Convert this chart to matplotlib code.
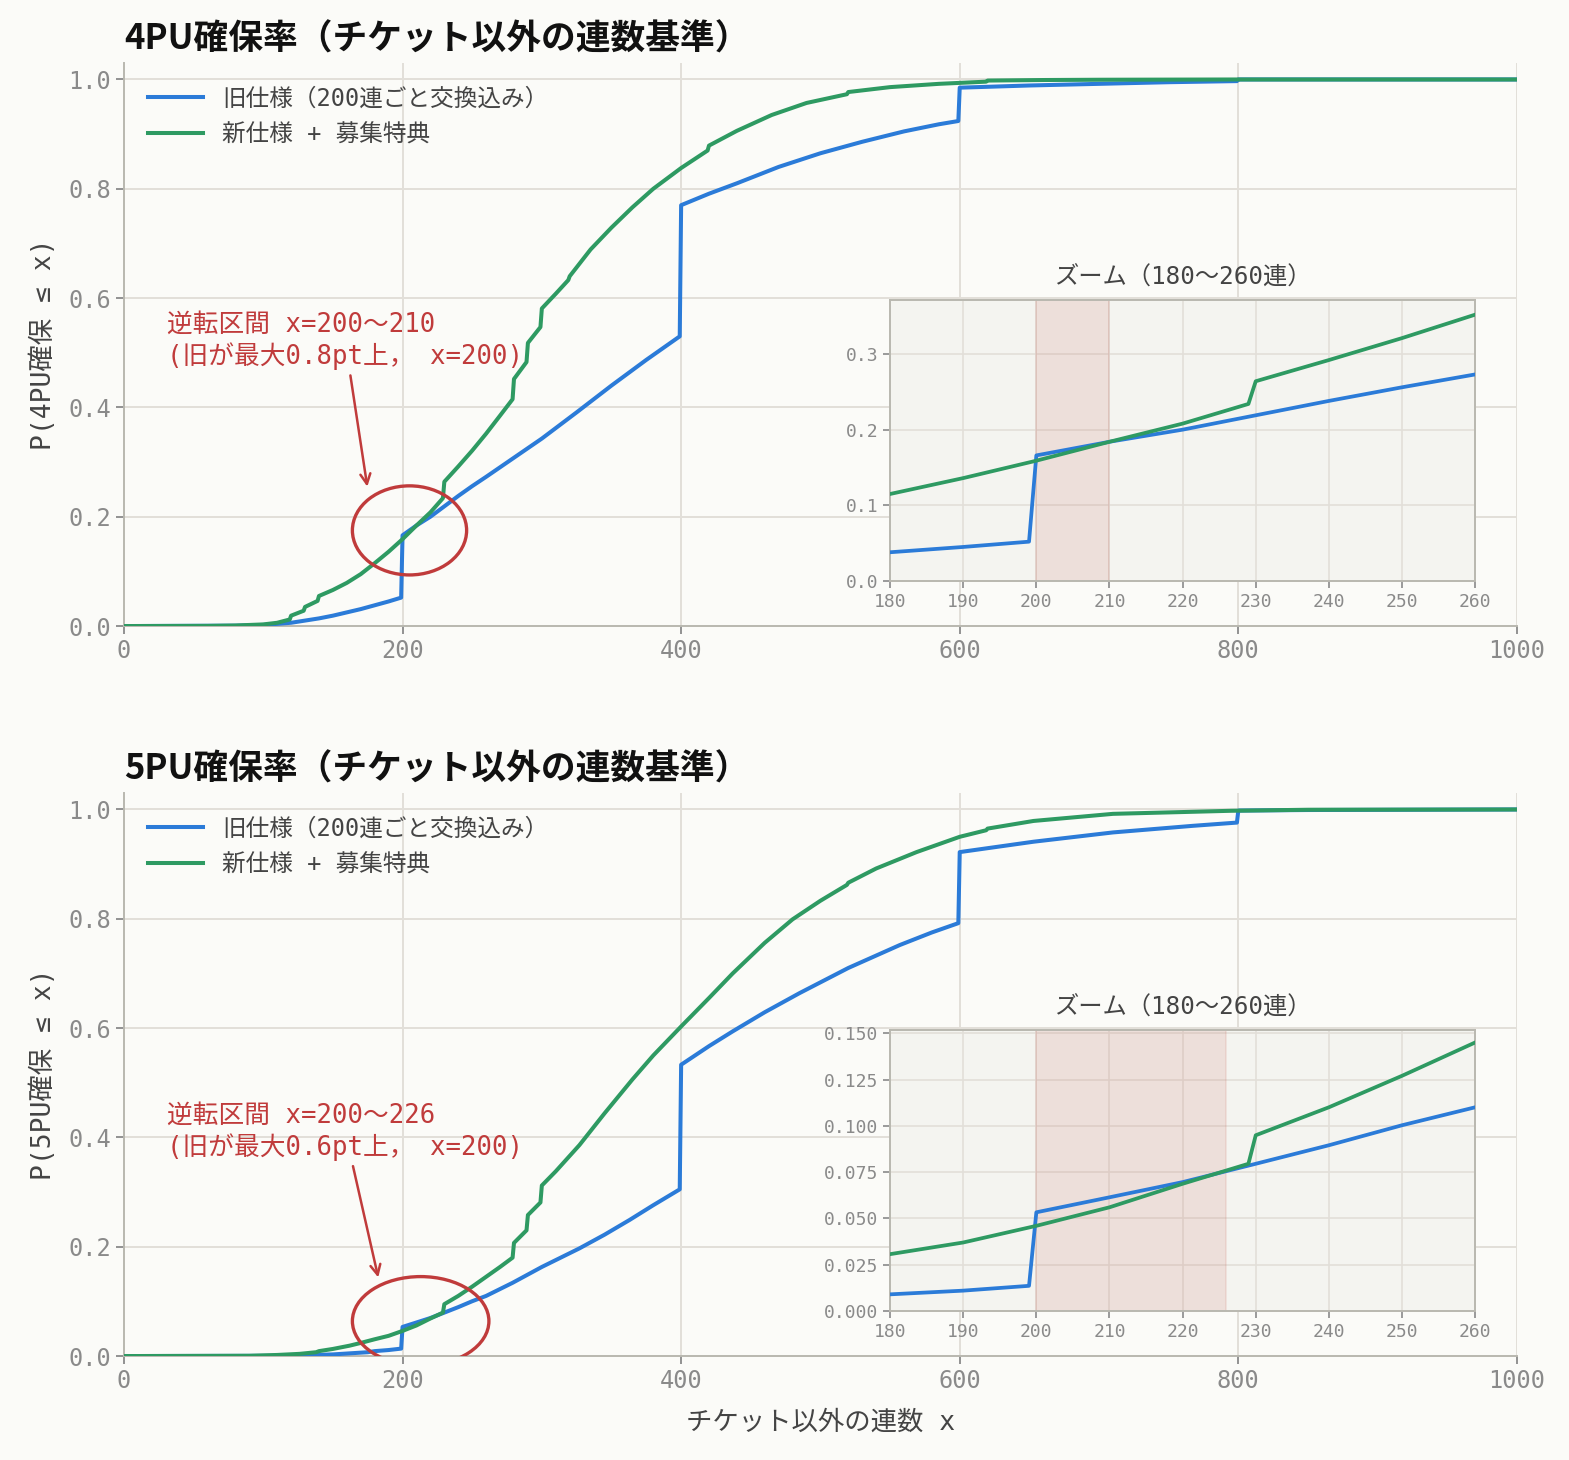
import numpy as np
import matplotlib.pyplot as plt
from matplotlib.patches import Ellipse

plt.rcParams['font.family'] = ['DejaVu Sans Mono', 'Noto Sans CJK JP']

# ===== data =====
# 4PU, old spec (exchange every 200 pulls)
x_old_4 = [0, 80, 100, 120, 140, 150, 160, 170, 180, 190,
           199, 200, 210, 220, 230, 240, 250, 260, 280, 300,
           325, 350, 375, 399, 400, 420, 440, 470, 500, 530,
           560, 585, 599, 600, 650, 700, 750, 799, 800, 1000]
p_old_4 = [0, 0.0007, 0.002, 0.006, 0.014, 0.019, 0.025, 0.031, 0.038, 0.045,
           0.052, 0.166, 0.184, 0.200, 0.219, 0.238, 0.256, 0.273, 0.308, 0.343,
           0.391, 0.440, 0.487, 0.530, 0.770, 0.791, 0.810, 0.840, 0.865, 0.886,
           0.905, 0.918, 0.924, 0.985, 0.989, 0.992, 0.995, 0.997, 1.0, 1.0]

# 4PU, new spec + bonus
x_new_4 = [0, 60, 80, 100, 110, 119, 120, 129, 130, 139,
           140, 150, 160, 170, 180, 190, 200, 210, 220, 229,
           230, 240, 250, 260, 270, 279, 280, 289, 290, 299,
           300, 310, 319, 320, 335, 350, 365, 380, 400, 419,
           420, 440, 465, 490, 519, 520, 550, 585, 619, 620,
           660, 700, 800, 1000]
p_new_4 = [0, 0.0003, 0.001, 0.003, 0.006, 0.012, 0.019, 0.028, 0.035, 0.046,
           0.055, 0.066, 0.079, 0.095, 0.115, 0.136, 0.159, 0.184, 0.208, 0.234,
           0.264, 0.292, 0.321, 0.352, 0.385, 0.415, 0.452, 0.483, 0.518, 0.547,
           0.581, 0.608, 0.633, 0.640, 0.689, 0.729, 0.766, 0.800, 0.838, 0.870,
           0.879, 0.906, 0.935, 0.957, 0.973, 0.977, 0.986, 0.992, 0.996, 0.998,
           0.999, 0.9995, 1.0, 1.0]

# 5PU, old spec
x_old_5 = [0, 120, 150, 175, 180, 190, 199, 200, 210, 220,
           230, 240, 250, 260, 279, 300, 327, 345, 363, 380,
           399, 400, 420, 437, 460, 485, 520, 557, 580, 599,
           600, 653, 710, 767, 799, 800, 850, 1000]
p_old_5 = [0, 0.0005, 0.003, 0.007, 0.009, 0.011, 0.0136, 0.0533, 0.0614, 0.0696,
           0.0795, 0.0895, 0.1003, 0.110, 0.134, 0.163, 0.197, 0.222, 0.249, 0.276,
           0.305, 0.533, 0.567, 0.594, 0.629, 0.664, 0.710, 0.752, 0.775, 0.792,
           0.922, 0.941, 0.958, 0.970, 0.976, 0.998, 0.999, 1.0]

# 5PU, new spec + bonus
x_new_5 = [0, 90, 110, 126, 138, 140, 150, 162, 170, 180,
           190, 200, 210, 220, 229, 230, 240, 250, 260, 270,
           279, 280, 289, 290, 299, 300, 310, 327, 345, 365,
           380, 400, 420, 437, 460, 480, 500, 519, 520, 540,
           569, 600, 619, 620, 653, 710, 795, 850, 1000]
p_new_5 = [0, 0.0005, 0.002, 0.004, 0.007, 0.009, 0.013, 0.019, 0.024, 0.0307,
           0.037, 0.046, 0.056, 0.0687, 0.0795, 0.0949, 0.110, 0.127, 0.145, 0.163,
           0.180, 0.207, 0.230, 0.258, 0.281, 0.312, 0.338, 0.386, 0.444, 0.506,
           0.550, 0.603, 0.655, 0.700, 0.756, 0.799, 0.833, 0.862, 0.866, 0.892,
           0.922, 0.950, 0.962, 0.965, 0.979, 0.992, 0.9976, 0.9995, 1.0]

targets = ["4PU", "5PU"]
rev_lo = [200, 200]
rev_hi = [210, 226]
rev_gap = [0.8, 0.6]
rev_at = [200, 200]
zoom_ymax = [0.372, 0.152]

label_old = "旧仕様（200連ごと交換込み）"
label_new = "新仕様 + 募集特典"

# ===== style =====
BG = "#fbfbf8"
INSET_BG = "#f4f4f0"
GRID = "#e2dfd9"
SPINE = "#b9b8b0"
TICK = "#8a8a8a"
TEXT = "#444444"
BLUE = "#2b7bd8"
GREEN = "#2e9a62"
RED = "#c03b3b"

fig = plt.figure(figsize=(15.69, 14.6), dpi=100, facecolor=BG)
rects = [[0.0790, 0.5712, 0.8878, 0.3856],
         [0.0790, 0.0712, 0.8878, 0.3856]]

series = [(x_old_4, p_old_4, x_new_4, p_new_4),
          (x_old_5, p_old_5, x_new_5, p_new_5)]

for i, rect in enumerate(rects):
    xo, po, xn, pn = series[i]
    ax = fig.add_axes(rect, facecolor=BG)
    ax.plot(xo, po, color=BLUE, lw=2.9, label=label_old, zorder=3)
    ax.plot(xn, pn, color=GREEN, lw=2.9, label=label_new, zorder=3)
    ax.set_xlim(0, 1000)
    ax.set_ylim(0, 1.03)
    ax.set_xticks(np.arange(0, 1001, 200))
    ax.set_yticks(np.arange(0, 1.01, 0.2))
    ax.yaxis.set_major_formatter(plt.FormatStrFormatter("%.1f"))
    ax.grid(True, color=GRID, lw=1.4)
    ax.set_axisbelow(True)
    for s in ["top", "right"]:
        ax.spines[s].set_visible(False)
    for s in ["left", "bottom"]:
        ax.spines[s].set_color(SPINE)
        ax.spines[s].set_linewidth(1.4)
    ax.tick_params(labelsize=17, colors=TICK, length=6, width=1.3)
    ax.set_title(f"{targets[i]}確保率（チケット以外の連数基準）", loc="left",
                 fontsize=25, fontweight="bold", family=["Noto Sans CJK JP"],
                 color="#111111", pad=10)
    ax.set_ylabel(f"P({targets[i]}確保 ≤ x)", fontsize=19, color=TEXT, labelpad=8)
    if i == 1:
        ax.set_xlabel("チケット以外の連数 x", fontsize=19, color=TEXT, labelpad=12)
    ax.legend(loc="upper left", frameon=False, fontsize=17, labelcolor=TEXT,
              handlelength=2.35, handletextpad=0.8, labelspacing=0.5,
              borderaxespad=0.6)

    # reversal marker
    lo, hi = rev_lo[i], rev_hi[i]
    cx = (lo + hi) / 2
    cy = np.interp(cx, xo, po)
    ax.add_patch(Ellipse((cx, cy), width=(hi - lo) + 72, height=0.163,
                         fill=False, edgecolor=RED, lw=2.4, zorder=4))
    ax.annotate(f"逆転区間 x={lo}〜{hi}\n(旧が最大{rev_gap[i]}pt上， x={rev_at[i]})",
                xy=(cx - 30, cy + 0.075), xytext=(31, cy + 0.40),
                ha="left", va="top", fontsize=18.5, color=RED, linespacing=1.2,
                arrowprops=dict(arrowstyle="->", color=RED, lw=1.8,
                                mutation_scale=18))

    # zoom inset
    ins = ax.inset_axes([0.55, 0.08, 0.42, 0.50])
    ins.set_facecolor(INSET_BG)
    ins.axvspan(lo, hi, color="#c96a60", alpha=0.15, lw=1.2, zorder=1)
    ins.plot(xo, po, color=BLUE, lw=2.7, zorder=3)
    ins.plot(xn, pn, color=GREEN, lw=2.7, zorder=3)
    ins.set_xlim(180, 260)
    ins.set_ylim(0, zoom_ymax[i])
    ins.set_xticks(np.arange(180, 261, 10))
    ins.grid(True, color=GRID, lw=1.2)
    ins.set_axisbelow(True)
    for s in ins.spines.values():
        s.set_color(SPINE)
        s.set_linewidth(1.4)
    ins.tick_params(labelsize=13, colors=TICK, length=5, width=1.2)
    ins.set_title("ズーム（180〜260連）", fontsize=17.5, color=TEXT, pad=11)

fig.savefig("out.png", dpi=100, facecolor=BG)
